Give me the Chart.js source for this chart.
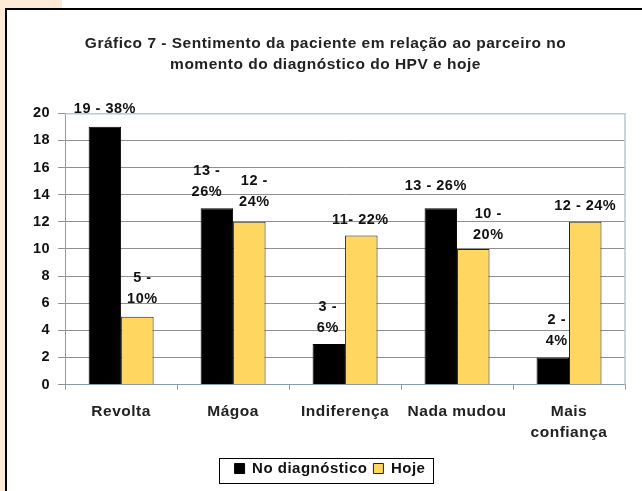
<!DOCTYPE html>
<html>
<head>
<meta charset="utf-8">
<script src="https://cdn.jsdelivr.net/npm/chart.js@4/dist/chart.umd.min.js"></script>
<style>
  html, body { margin: 0; padding: 0; background: #fff; overflow: hidden; }
  #beigeTop { position: absolute; left: 0; top: 0; width: 62px; height: 12px; background: #fdebd8; }
  #beigeLeft { position: absolute; left: 0; top: 0; width: 6px; height: 491px; background: #fdebd8; }
  #frame { position: absolute; left: 5px; top: 8px; width: 700px; height: 520px; background: #fff; border: 2px solid #000; }
  #wrap { position: absolute; left: 0; top: 0; width: 642px; height: 491px; }
</style>
</head>
<body>
<div id="beigeTop"></div>
<div id="beigeLeft"></div>
<div id="frame"></div>
<div id="wrap"><canvas id="c" width="642" height="491"></canvas></div>
<script>
const categories = ['Revolta', 'Mágoa', 'Indiferença', 'Nada mudou', ['Mais', 'confiança']];
const noDiagnostico = [19, 13, 3, 13, 2];
const hoje = [5, 12, 11, 10, 12];
const labelsNo = [['19 - 38%'], ['13 -', '26%'], ['3 -', '6%'], ['13 - 26%'], ['2 -', '4%']];
const labelsHoje = [['5 -', '10%'], ['12 -', '24%'], ['11- 22%'], ['10 -', '20%'], ['12 - 24%']];
const yTicks = [0, 2, 4, 6, 8, 10, 12, 14, 16, 18, 20];

// small nudges so the labels sit like in the original
const nudgeNo = [0, -10, -1, -5, 4];
const nudgeHoje = [5, 5, -1, 15, 0];
const liftNo = [0, -2, -2, 4, -2];
const liftHoje = [0, 2, -3, -4, -2];

const FONT = 'Liberation Sans, Arial, sans-serif';

const spacing = {
  id: 'spacing',
  beforeDraw(chart) { chart.ctx.letterSpacing = '0.5px'; }
};

const barLabels = {
  id: 'barLabels',
  afterDatasetsDraw(chart) {
    const ctx = chart.ctx;
    ctx.save();
    ctx.letterSpacing = '0.5px';
    ctx.font = 'bold 14.5px ' + FONT;
    ctx.fillStyle = '#111';
    ctx.textAlign = 'center';
    ctx.textBaseline = 'alphabetic';
    [[0, labelsNo, nudgeNo, liftNo], [1, labelsHoje, nudgeHoje, liftHoje]].forEach(([di, texts, nudge, lift]) => {
      chart.getDatasetMeta(di).data.forEach((bar, i) => {
        const lines = texts[i];
        const lh = 21;
        const y = bar.y - 14 - lift[i] - (lines.length - 1) * lh;
        lines.forEach((t, k) => {
          ctx.fillText(t, bar.x + nudge[i], y + k * lh);
        });
      });
    });
    ctx.restore();
  }
};

const frameBits = {
  id: 'frameBits',
  afterDraw(chart) {
    const ctx = chart.ctx;
    const a = chart.chartArea;
    ctx.save();
    ctx.strokeStyle = '#b8c8d4';
    ctx.lineWidth = 1.5;
    ctx.beginPath();
    ctx.moveTo(a.left, a.top + 0.5);
    ctx.lineTo(a.right, a.top + 0.5);
    ctx.lineTo(a.right, a.bottom);
    ctx.stroke();
    const lg = chart.legend;
    ctx.strokeStyle = '#000';
    ctx.lineWidth = 1;
    const w = 214, h = 25;
    const cx = (lg.left + lg.right) / 2;
    const cy = lg.top + lg.height / 2;
    ctx.strokeRect(Math.round(cx - w / 2) + 0.5, Math.round(cy - h / 2) + 0.5, w, h);
    ctx.restore();
  }
};

new Chart(document.getElementById('c'), {
  type: 'bar',
  data: {
    labels: categories,
    datasets: [{
      label: 'No diagnóstico',
      data: noDiagnostico,
      backgroundColor: '#000',
      borderColor: '#000',
      borderWidth: 1,
      categoryPercentage: 0.58,
      barPercentage: 1
    }, {
      label: 'Hoje',
      data: hoje,
      backgroundColor: '#fed660',
      borderColor: '#222',
      borderWidth: 1,
      categoryPercentage: 0.58,
      barPercentage: 1
    }]
  },
  options: {
    responsive: false,
    animation: false,
    layout: { padding: { left: 26, right: 17, top: 22, bottom: 5 } },
    plugins: {
      title: {
        display: true,
        text: ['Gráfico 7 - Sentimento da paciente em relação ao parceiro no', 'momento do diagnóstico do HPV e hoje'],
        color: '#222',
        font: { family: FONT, size: 15.5, weight: 'bold', lineHeight: 1.3 },
        padding: { top: 12, bottom: 39 }
      },
      legend: {
        position: 'bottom',
        labels: {
          color: '#111',
          font: { family: FONT, size: 15, weight: 'bold' },
          boxWidth: 10,
          boxHeight: 10,
          padding: 6
        }
      },
      tooltip: { enabled: false }
    },
    scales: {
      x: {
        grid: { drawOnChartArea: false, color: '#8a9aa6', tickLength: 5, offset: true },
        border: { color: '#8a9aa6' },
        ticks: { color: '#222', font: { family: FONT, size: 15.5, weight: 'bold', lineHeight: 1.4 }, padding: 11 }
      },
      y: {
        min: 0,
        max: 20,
        afterBuildTicks(axis) { axis.ticks = yTicks.map(v => ({ value: v })); },
        grid: { color: '#8f8f8f', tickLength: 7 },
        border: { color: '#8a9aa6' },
        ticks: { color: '#111', font: { family: FONT, size: 14.5, weight: 'bold' }, padding: 8 }
      }
    }
  },
  plugins: [spacing, barLabels, frameBits]
});
</script>
</body>
</html>
